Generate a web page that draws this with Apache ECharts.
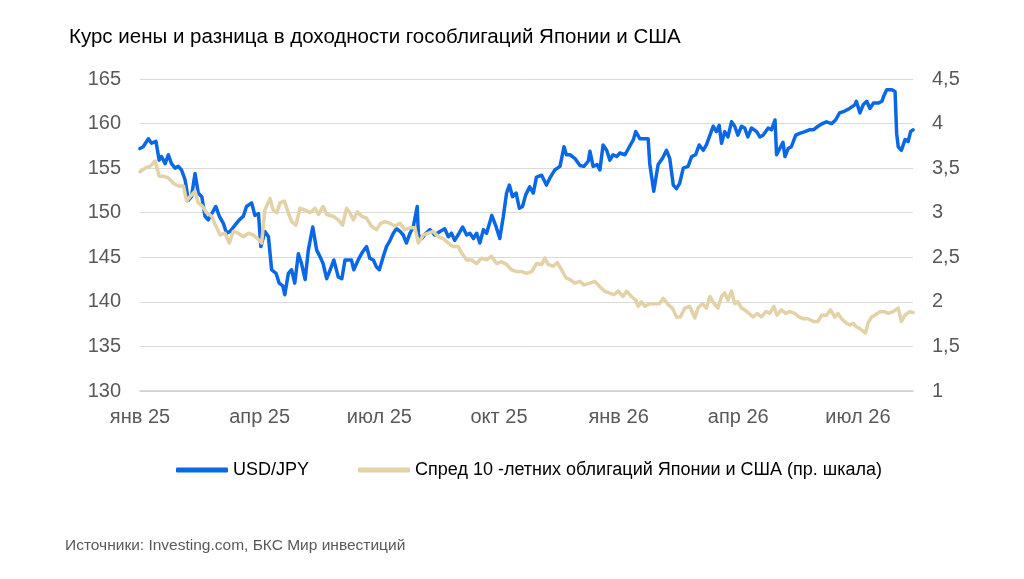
<!DOCTYPE html>
<html>
<head>
<meta charset="utf-8">
<script src="https://cdn.jsdelivr.net/npm/echarts@6/dist/echarts.min.js"></script>
<style>
  html, body { margin: 0; padding: 0; background: #fff; }
  #chart { width: 1024px; height: 579px; }
</style>
</head>
<body>
<div id="chart"></div>
<script>
// months since 1 Jan 2025
var tickLabels = ['янв 25', 'апр 25', 'июл 25', 'окт 25', 'янв 26', 'апр 26', 'июл 26'];

var usdMonth = [0.00, 0.08, 0.21, 0.29, 0.40, 0.48, 0.54, 0.63, 0.71, 0.79, 0.88, 0.96, 1.04, 1.13, 1.21, 1.29, 1.38, 1.46, 1.55, 1.63,
  1.71, 1.80, 1.90, 1.99, 2.09, 2.17, 2.26, 2.38, 2.49, 2.59, 2.67, 2.80, 2.88, 2.97, 3.03, 3.13, 3.22, 3.30, 3.41, 3.49,
  3.58, 3.63, 3.72, 3.80, 3.88, 3.97, 4.05, 4.14, 4.22, 4.33, 4.43, 4.51, 4.59, 4.68, 4.76, 4.86, 4.97, 5.06, 5.14, 5.23,
  5.30, 5.36, 5.47, 5.58, 5.68, 5.76, 5.85, 5.93, 6.00, 6.10, 6.18, 6.27, 6.35, 6.43, 6.52, 6.60, 6.68, 6.77, 6.85, 6.95,
  6.98, 7.06, 7.17, 7.27, 7.39, 7.52, 7.64, 7.73, 7.81, 7.89, 8.00, 8.09, 8.19, 8.27, 8.36, 8.44, 8.52, 8.61, 8.69, 8.82,
  8.93, 9.02, 9.11, 9.19, 9.26, 9.34, 9.43, 9.51, 9.59, 9.67, 9.77, 9.86, 9.94, 10.07, 10.19, 10.29, 10.40, 10.53, 10.63, 10.69,
  10.78, 10.90, 11.03, 11.13, 11.24, 11.28, 11.36, 11.46, 11.53, 11.61, 11.70, 11.78, 11.86, 11.95, 12.03, 12.16, 12.27, 12.37, 12.43, 12.53,
  12.62, 12.74, 12.78, 12.88, 12.99, 13.10, 13.20, 13.28, 13.37, 13.45, 13.53, 13.62, 13.74, 13.83, 13.93, 14.02, 14.12, 14.20, 14.29, 14.37,
  14.45, 14.52, 14.58, 14.66, 14.74, 14.83, 14.91, 14.99, 15.08, 15.16, 15.24, 15.33, 15.46, 15.54, 15.62, 15.75, 15.83, 15.92, 15.96, 16.04,
  16.12, 16.17, 16.25, 16.33, 16.44, 16.54, 16.67, 16.78, 16.88, 17.00, 17.11, 17.21, 17.34, 17.44, 17.54, 17.67, 17.79, 17.92, 17.96, 18.05,
  18.13, 18.22, 18.30, 18.39, 18.51, 18.60, 18.64, 18.72, 18.85, 18.93, 18.97, 19.01, 19.09, 19.18, 19.26, 19.32, 19.38];
var usdRate = [157.2, 157.4, 158.3, 157.8, 158.0, 155.9, 156.3, 155.5, 156.5, 155.5, 155.0, 155.2, 154.8, 153.7, 151.4, 151.8, 154.4, 152.2, 151.8, 149.6,
  149.2, 149.9, 150.7, 149.6, 148.8, 147.7, 147.9, 148.6, 149.2, 149.6, 150.7, 151.1, 149.7, 149.9, 146.2, 147.9, 147.3, 143.6, 143.2, 142.1,
  141.8, 140.8, 143.2, 143.6, 142.1, 145.4, 144.3, 142.5, 145.8, 148.4, 145.8, 145.1, 144.3, 142.6, 143.5, 144.7, 142.8, 142.6, 144.7, 144.7,
  144.7, 143.6, 144.7, 145.6, 146.2, 144.9, 144.7, 143.9, 143.6, 145.1, 146.2, 146.9, 147.7, 148.2, 147.9, 147.5, 146.6, 147.7, 148.4, 150.7,
  147.5, 147.1, 147.7, 148.1, 147.5, 147.9, 148.2, 147.3, 147.7, 146.9, 147.7, 148.4, 147.5, 147.7, 147.1, 147.7, 146.6, 148.1, 147.7, 149.7,
  148.4, 147.1, 149.6, 152.2, 153.1, 151.8, 152.2, 150.5, 150.7, 152.0, 152.9, 152.2, 154.0, 154.2, 153.1, 154.0, 154.8, 155.2, 157.4, 156.5,
  156.5, 156.1, 155.3, 155.2, 155.8, 156.9, 155.2, 155.4, 154.8, 157.6, 157.0, 155.9, 156.5, 156.3, 156.7, 156.5, 157.4, 158.2, 159.1, 158.3,
  158.3, 158.3, 155.5, 152.4, 155.4, 156.1, 157.0, 156.1, 153.1, 152.7, 153.3, 155.0, 155.2, 156.3, 156.5, 157.6, 157.0, 157.6, 158.7, 159.7,
  159.1, 159.8, 157.8, 159.1, 158.5, 160.2, 159.7, 158.7, 159.7, 159.5, 158.5, 159.5, 159.1, 158.5, 158.7, 159.5, 159.3, 160.4, 156.5, 157.2,
  157.9, 156.3, 157.2, 157.4, 158.7, 158.9, 159.1, 159.3, 159.3, 159.7, 160.0, 160.2, 160.0, 160.4, 161.2, 161.4, 161.7, 162.1, 162.5, 161.2,
  162.1, 162.5, 161.7, 162.3, 162.3, 162.5, 163.0, 163.8, 163.8, 163.6, 158.9, 157.4, 157.0, 158.2, 158.0, 159.1, 159.3];

var spreadMonth = [0.00, 0.13, 0.25, 0.38, 0.48, 0.58, 0.71, 0.84, 0.96, 1.09, 1.17, 1.25, 1.38, 1.46, 1.57, 1.67, 1.80, 1.90, 2.01, 2.13,
  2.24, 2.34, 2.46, 2.59, 2.72, 2.84, 2.97, 3.05, 3.13, 3.26, 3.34, 3.43, 3.51, 3.62, 3.72, 3.80, 3.91, 4.01, 4.14, 4.26,
  4.39, 4.47, 4.59, 4.68, 4.85, 4.97, 5.08, 5.18, 5.26, 5.35, 5.45, 5.56, 5.68, 5.80, 5.93, 6.03, 6.14, 6.27, 6.39, 6.52,
  6.64, 6.77, 6.89, 6.98, 7.10, 7.23, 7.35, 7.48, 7.60, 7.73, 7.85, 7.98, 8.06, 8.19, 8.31, 8.44, 8.56, 8.69, 8.81, 8.94,
  9.06, 9.19, 9.31, 9.44, 9.57, 9.69, 9.82, 9.94, 10.07, 10.15, 10.23, 10.36, 10.46, 10.57, 10.68, 10.78, 10.90, 11.03, 11.13, 11.28,
  11.40, 11.53, 11.65, 11.76, 11.88, 11.99, 12.11, 12.20, 12.32, 12.43, 12.49, 12.57, 12.66, 12.78, 12.91, 13.02, 13.12, 13.24, 13.35, 13.45,
  13.55, 13.66, 13.78, 13.91, 13.99, 14.10, 14.20, 14.29, 14.41, 14.49, 14.58, 14.66, 14.74, 14.83, 14.91, 14.99, 15.08, 15.16, 15.27, 15.37,
  15.47, 15.58, 15.69, 15.79, 15.89, 15.97, 16.08, 16.19, 16.29, 16.42, 16.52, 16.64, 16.75, 16.88, 17.00, 17.09, 17.21, 17.31, 17.42, 17.50,
  17.59, 17.71, 17.80, 17.88, 17.96, 18.05, 18.13, 18.19, 18.25, 18.34, 18.42, 18.55, 18.67, 18.76, 18.88, 19.01, 19.09, 19.18, 19.30, 19.38];
var spreadValue = [3.46, 3.50, 3.52, 3.58, 3.41, 3.41, 3.39, 3.33, 3.30, 3.30, 3.13, 3.18, 3.24, 3.11, 3.07, 3.00, 2.96, 2.85, 2.75, 2.77,
  2.66, 2.79, 2.77, 2.73, 2.77, 2.75, 2.70, 2.66, 3.03, 3.16, 3.03, 3.00, 3.11, 3.13, 3.00, 2.90, 2.86, 3.05, 3.03, 3.00,
  3.05, 2.98, 3.07, 2.98, 2.96, 2.92, 2.86, 3.05, 3.00, 2.92, 3.01, 2.96, 2.94, 2.85, 2.81, 2.88, 2.90, 2.88, 2.85, 2.88,
  2.81, 2.83, 2.83, 2.66, 2.75, 2.77, 2.79, 2.73, 2.71, 2.66, 2.62, 2.62, 2.55, 2.47, 2.47, 2.43, 2.49, 2.47, 2.51, 2.43,
  2.45, 2.42, 2.36, 2.34, 2.34, 2.32, 2.34, 2.43, 2.42, 2.49, 2.42, 2.40, 2.44, 2.36, 2.27, 2.25, 2.21, 2.23, 2.19, 2.21,
  2.23, 2.17, 2.12, 2.10, 2.08, 2.12, 2.06, 2.12, 2.06, 2.02, 1.95, 2.00, 1.95, 1.98, 1.98, 1.98, 2.04, 1.97, 1.93, 1.83,
  1.83, 1.93, 1.95, 1.82, 1.93, 1.98, 1.93, 2.06, 1.97, 1.93, 2.06, 2.10, 2.02, 2.12, 1.98, 2.00, 1.93, 1.91, 1.87, 1.83,
  1.87, 1.83, 1.89, 1.87, 1.95, 1.85, 1.91, 1.87, 1.89, 1.87, 1.83, 1.81, 1.81, 1.78, 1.78, 1.85, 1.85, 1.91, 1.83, 1.87,
  1.81, 1.76, 1.74, 1.76, 1.72, 1.70, 1.67, 1.65, 1.76, 1.83, 1.85, 1.89, 1.89, 1.87, 1.89, 1.93, 1.78, 1.85, 1.89, 1.88];

var chart = echarts.init(document.getElementById('chart'));

function pairs(xs, ys) {
  return xs.map(function (x, i) { return [x, ys[i]]; });
}

var font = 'Liberation Sans, Arial, sans-serif';
var axisText = { color: '#595959', fontSize: 20, fontFamily: font };

var option = {
  backgroundColor: '#fff',
  title: {
    text: 'Курс иены и разница в доходности гособлигаций Японии и США',
    left: 64,
    top: 22,
    textStyle: { color: '#000', fontSize: 20.5, fontWeight: 'normal', fontFamily: font }
  },
  legend: {
    left: 171,
    top: 456,
    itemWidth: 52,
    itemHeight: 5,
    itemGap: 49,
    icon: 'roundRect',
    textStyle: { color: '#000', fontSize: 18, fontFamily: font },
    data: ['USD/JPY', 'Спред 10 -летних облигаций Японии и США (пр. шкала)']
  },
  graphic: [{
    type: 'text',
    left: 65,
    top: 538,
    style: { text: 'Источники: Investing.com, БКС Мир инвестиций', fill: '#595959', fontSize: 15.5, fontFamily: font }
  }],
  grid: { left: 140, right: 111, top: 79, bottom: 188 },
  xAxis: {
    type: 'value',
    min: 0,
    max: 19.38,
    interval: 3,
    axisLine: { show: true, lineStyle: { color: '#d0d0d0', width: 1.5 } },
    axisTick: { show: false },
    splitLine: { show: false },
    axisLabel: Object.assign({
      margin: 16,
      showMaxLabel: false,
      formatter: function (v) {
        var k = Math.round(v / 3);
        return Math.abs(v - k * 3) < 1e-6 && tickLabels[k] ? tickLabels[k] : '';
      }
    }, axisText)
  },
  yAxis: [
    {
      type: 'value',
      min: 130,
      max: 165,
      interval: 5,
      axisLine: { show: false },
      axisTick: { show: false },
      splitLine: { lineStyle: { color: '#d9d9d9', width: 1 } },
      axisLabel: Object.assign({ margin: 19 }, axisText)
    },
    {
      type: 'value',
      min: 1,
      max: 4.5,
      interval: 0.5,
      axisLine: { show: false },
      axisTick: { show: false },
      splitLine: { show: false },
      axisLabel: Object.assign({
        margin: 19,
        formatter: function (v) { return String(v).replace('.', ','); }
      }, axisText)
    }
  ],
  series: [
    {
      name: 'USD/JPY',
      type: 'line',
      yAxisIndex: 0,
      showSymbol: false,
      symbol: 'none',
      color: '#0A68E6',
      lineStyle: { width: 3.5, color: '#0A68E6', join: 'round', cap: 'round' },
      data: pairs(usdMonth, usdRate)
    },
    {
      name: 'Спред 10 -летних облигаций Японии и США (пр. шкала)',
      type: 'line',
      yAxisIndex: 1,
      showSymbol: false,
      symbol: 'none',
      color: '#E3D1A7',
      lineStyle: { width: 3.5, color: '#E3D1A7', join: 'round', cap: 'round' },
      data: pairs(spreadMonth, spreadValue)
    }
  ]
};

chart.setOption(option);
</script>
</body>
</html>
